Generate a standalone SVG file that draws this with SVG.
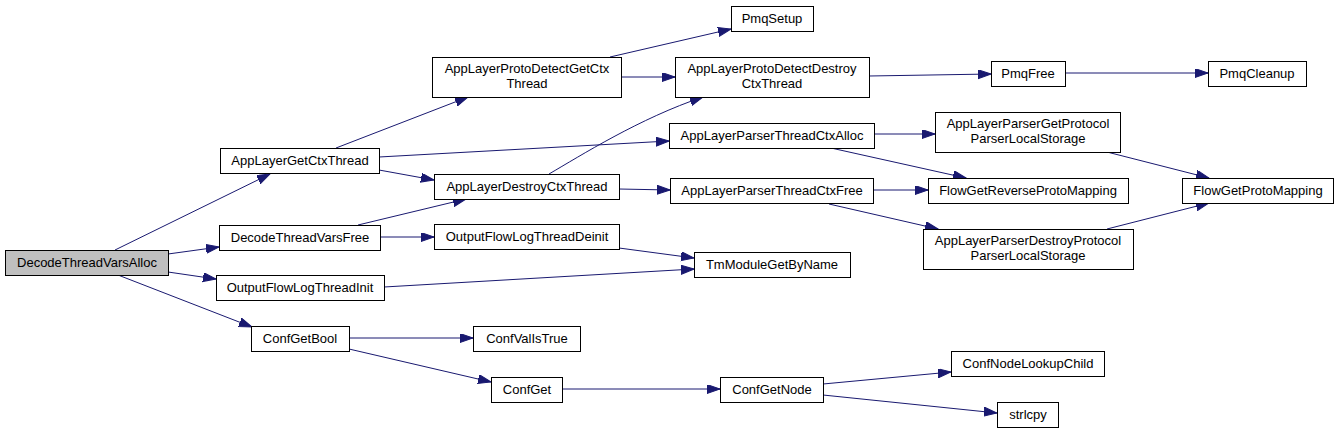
<svg xmlns="http://www.w3.org/2000/svg" width="1339" height="433" viewBox="0 0 1339 433">
<defs>
<style>
.n rect{fill:#ffffff;stroke:#000000;stroke-width:1}
.n.root rect{fill:#bfbfbf}
.n text{font-family:"Liberation Sans",Arial,sans-serif;font-size:13px;fill:#000000;text-anchor:middle}
.e path{fill:none;stroke:#191970;stroke-width:1;marker-end:url(#ah)}
</style>
<marker id="ah" markerUnits="userSpaceOnUse" markerWidth="14" markerHeight="10" refX="13" refY="4.5" orient="auto">
<path d="M0,0 L13,4.5 L0,9 z" fill="#191970" stroke="#191970" stroke-width="1"/>
</marker>
</defs>
<rect x="0" y="0" width="1339" height="433" fill="#ffffff"/>
<g id="edges" class="e">
<path d="M115,250 L270,174"/>
<path d="M168,254 L219,247"/>
<path d="M168,272 L216,279"/>
<path d="M118,275 L252,327"/>
<path d="M336,148 L468,97"/>
<path d="M379,157 L669,141"/>
<path d="M379,170 L434,180"/>
<path d="M610,57 L731,29"/>
<path d="M621,77 L675,77"/>
<path d="M549,174 C580,156 640,118 703,97"/>
<path d="M358,225 L466,199"/>
<path d="M380,237 L434,237"/>
<path d="M619,189 L670,190"/>
<path d="M874,134 L935,134"/>
<path d="M831,148 L966,178"/>
<path d="M873,190 L928,190"/>
<path d="M829,204 L938,229"/>
<path d="M869,76 L991,74"/>
<path d="M1065,73 L1208,73"/>
<path d="M1107,152 L1209,178"/>
<path d="M1107,229 L1209,203"/>
<path d="M619,248 L694,258"/>
<path d="M384,287 L694,269"/>
<path d="M349,338 L473,338"/>
<path d="M349,349 L491,382"/>
<path d="M562,389 L720,389"/>
<path d="M823,384 L951,372"/>
<path d="M823,395 L997,413"/>
</g>
<g id="DecodeThreadVarsAlloc" class="n root"><rect x="5.5" y="250.5" width="163" height="25"/><text x="87" y="267">DecodeThreadVarsAlloc</text></g>
<g id="AppLayerGetCtxThread" class="n"><rect x="220.5" y="148.5" width="159" height="25"/><text x="300" y="165">AppLayerGetCtxThread</text></g>
<g id="DecodeThreadVarsFree" class="n"><rect x="219.5" y="225.5" width="161" height="25"/><text x="300" y="242">DecodeThreadVarsFree</text></g>
<g id="OutputFlowLogThreadInit" class="n"><rect x="216.5" y="275.5" width="168" height="25"/><text x="300" y="292">OutputFlowLogThreadInit</text></g>
<g id="ConfGetBool" class="n"><rect x="251.5" y="326.5" width="98" height="25"/><text x="300" y="343">ConfGetBool</text></g>
<g id="AppLayerProtoDetectGetCtxThread" class="n"><rect x="432.5" y="57.5" width="189" height="40"/><text x="527" y="73">AppLayerProtoDetectGetCtx</text><text x="527" y="88">Thread</text></g>
<g id="AppLayerDestroyCtxThread" class="n"><rect x="434.5" y="174.5" width="185" height="25"/><text x="527" y="191">AppLayerDestroyCtxThread</text></g>
<g id="OutputFlowLogThreadDeinit" class="n"><rect x="434.5" y="224.5" width="185" height="25"/><text x="527" y="241">OutputFlowLogThreadDeinit</text></g>
<g id="ConfValIsTrue" class="n"><rect x="473.5" y="326.5" width="107" height="25"/><text x="527" y="343">ConfValIsTrue</text></g>
<g id="ConfGet" class="n"><rect x="491.5" y="377.5" width="71" height="25"/><text x="527" y="394">ConfGet</text></g>
<g id="PmqSetup" class="n"><rect x="731.5" y="6.5" width="82" height="25"/><text x="772" y="23">PmqSetup</text></g>
<g id="AppLayerProtoDetectDestroyCtxThread" class="n"><rect x="675.5" y="57.5" width="194" height="40"/><text x="772" y="73">AppLayerProtoDetectDestroy</text><text x="772" y="88">CtxThread</text></g>
<g id="AppLayerParserThreadCtxAlloc" class="n"><rect x="669.5" y="123.5" width="205" height="25"/><text x="772" y="140">AppLayerParserThreadCtxAlloc</text></g>
<g id="AppLayerParserThreadCtxFree" class="n"><rect x="670.5" y="178.5" width="203" height="25"/><text x="772" y="195">AppLayerParserThreadCtxFree</text></g>
<g id="TmModuleGetByName" class="n"><rect x="694.5" y="252.5" width="156" height="25"/><text x="772" y="269">TmModuleGetByName</text></g>
<g id="ConfGetNode" class="n"><rect x="720.5" y="377.5" width="103" height="25"/><text x="772" y="394">ConfGetNode</text></g>
<g id="PmqFree" class="n"><rect x="991.5" y="61.5" width="74" height="25"/><text x="1028" y="78">PmqFree</text></g>
<g id="AppLayerParserGetProtocolParserLocalStorage" class="n"><rect x="935.5" y="112.5" width="185" height="40"/><text x="1028" y="128">AppLayerParserGetProtocol</text><text x="1028" y="143">ParserLocalStorage</text></g>
<g id="FlowGetReverseProtoMapping" class="n"><rect x="928.5" y="178.5" width="200" height="25"/><text x="1028" y="195">FlowGetReverseProtoMapping</text></g>
<g id="AppLayerParserDestroyProtocolParserLocalStorage" class="n"><rect x="923.5" y="229.5" width="210" height="40"/><text x="1028" y="245">AppLayerParserDestroyProtocol</text><text x="1028" y="260">ParserLocalStorage</text></g>
<g id="ConfNodeLookupChild" class="n"><rect x="951.5" y="351.5" width="153" height="25"/><text x="1028" y="368">ConfNodeLookupChild</text></g>
<g id="strlcpy" class="n"><rect x="997.5" y="402.5" width="61" height="25"/><text x="1028" y="419">strlcpy</text></g>
<g id="PmqCleanup" class="n"><rect x="1208.5" y="61.5" width="98" height="25"/><text x="1257" y="78">PmqCleanup</text></g>
<g id="FlowGetProtoMapping" class="n"><rect x="1182.5" y="178.5" width="151" height="25"/><text x="1258" y="195">FlowGetProtoMapping</text></g>
</svg>
